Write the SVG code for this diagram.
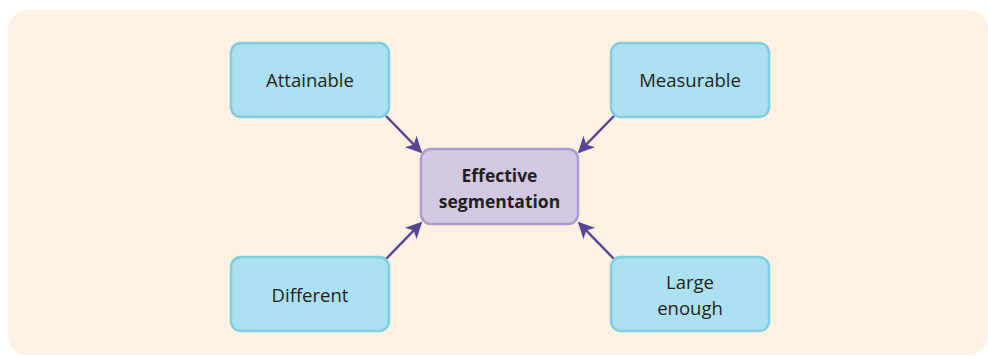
<svg xmlns="http://www.w3.org/2000/svg" width="988" height="356" viewBox="0 0 988 356">
<defs>
<style>
.box{fill:#acdfef;stroke:#7ecfe0;stroke-width:2.5}
.ctr{fill:#d2c8e2;stroke:#a89dcd;stroke-width:2.5}
.t{font-family:"Open Sans","Noto Sans","Liberation Sans",sans-serif;font-size:18.5px;fill:#231f20;text-anchor:middle}
.b{font-weight:bold;font-size:17.5px}
.c{stroke:#574596;stroke-width:2.5;fill:none;marker-end:url(#ah)}
</style>
<marker id="ah" viewBox="0 0 10 10" refX="9" refY="5" markerWidth="6.5" markerHeight="6.5" orient="auto" markerUnits="strokeWidth">
<path d="M0,0 L10,5 L0,10 L2.5,5 Z" fill="#574596"/>
</marker>
</defs>
<rect x="8" y="10" width="980" height="345" rx="20" fill="#fdf1e3"/>
<g id="connectors">
<line class="c" x1="386" y1="116" x2="421" y2="152"/>
<line class="c" x1="614" y1="116" x2="579" y2="152"/>
<line class="c" x1="386" y1="259" x2="421" y2="223"/>
<line class="c" x1="614" y1="259" x2="579" y2="223"/>
</g>
<g id="attainable">
<rect class="box" x="231" y="43" width="158" height="74" rx="10"/>
<text class="t" x="310" y="87">Attainable</text>
</g>
<g id="measurable">
<rect class="box" x="611" y="43" width="158" height="74" rx="10"/>
<text class="t" x="690" y="87">Measurable</text>
</g>
<g id="different">
<rect class="box" x="231" y="257" width="158" height="74" rx="10"/>
<text class="t" x="310" y="302">Different</text>
</g>
<g id="large-enough">
<rect class="box" x="611" y="257" width="158" height="74" rx="10"/>
<text class="t" x="690" y="289">Large</text>
<text class="t" x="690" y="315">enough</text>
</g>
<g id="effective-segmentation">
<rect class="ctr" x="421" y="149" width="157" height="75" rx="10"/>
<text class="t b" x="499.5" y="182">Effective</text>
<text class="t b" x="499.5" y="208">segmentation</text>
</g>
</svg>
